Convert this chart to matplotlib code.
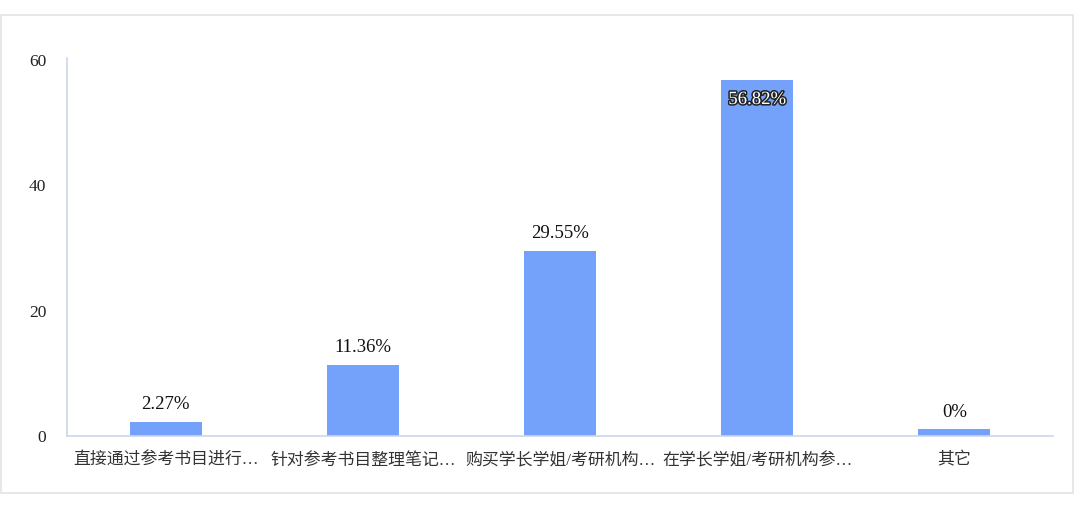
import matplotlib
matplotlib.use("Agg")
import matplotlib.pyplot as plt
import matplotlib.patheffects as pe
from matplotlib.patches import Rectangle
import numpy as np

categories = ["直接通过参考书目进行…", "针对参考书目整理笔记…", "购买学长学姐/考研机构…", "在学长学姐/考研机构参…", "其它"]
values = [2.27, 11.36, 29.55, 56.82, 0]
labels = ["2.27%", "11.36%", "29.55%", "56.82%", "0%"]
yticks = [0, 20, 40, 60]
min_visible = 1.1  # the reference draws zero as a thin stub

W, H = 1080, 528
fig = plt.figure(figsize=(W / 100, H / 100), dpi=100)
fig.patch.set_facecolor("white")

# outer frame
fig.add_artist(Rectangle((1 / W, 1 - 493 / H), 1072 / W, 478 / H, transform=fig.transFigure,
                         fill=False, edgecolor="#e3e3e3", linewidth=1.2))

ax = fig.add_axes([67 / W, 1 - 436 / H, (1053 - 67) / W, (436 - 58) / H])
x = np.arange(len(categories))
heights = np.maximum(values, min_visible)
bars = ax.bar(x, heights, width=0.365, color="#74a2fb", zorder=2)

ax.set_xlim(-0.5, len(categories) - 0.5)
ax.set_ylim(0, 60 * 378 / 376)
ax.set_yticks(yticks)
ax.set_yticklabels([str(t) for t in yticks], fontfamily="Liberation Serif", fontsize=12.5, color="#222222")
ax.set_xticks(x)
ax.set_xticklabels(categories, fontfamily=["Liberation Serif", "Noto Sans CJK SC"], fontsize=12.2, color="#333333")
ax.tick_params(axis="y", length=0, pad=15)
ax.tick_params(axis="x", length=0, pad=12)

for s in ["top", "right"]:
    ax.spines[s].set_visible(False)
for s in ["left", "bottom"]:
    ax.spines[s].set_color("#ccd6eb")
    ax.spines[s].set_linewidth(1.2)

for i, (h, lab) in enumerate(zip(heights, labels)):
    if values[i] > 50:
        t = ax.annotate(lab, (x[i], h), xytext=(0, -8), textcoords="offset points",
                        ha="center", va="top", fontfamily="Liberation Serif", fontsize=13.5,
                        color="white")
        t.set_path_effects([pe.withStroke(linewidth=2.2, foreground="#222222")])
    else:
        ax.annotate(lab, (x[i], h), xytext=(0, 6), textcoords="offset points",
                    ha="center", va="bottom", fontfamily="Liberation Serif", fontsize=13.5,
                    color="#111111")

fig.savefig("out.png", dpi=100)
